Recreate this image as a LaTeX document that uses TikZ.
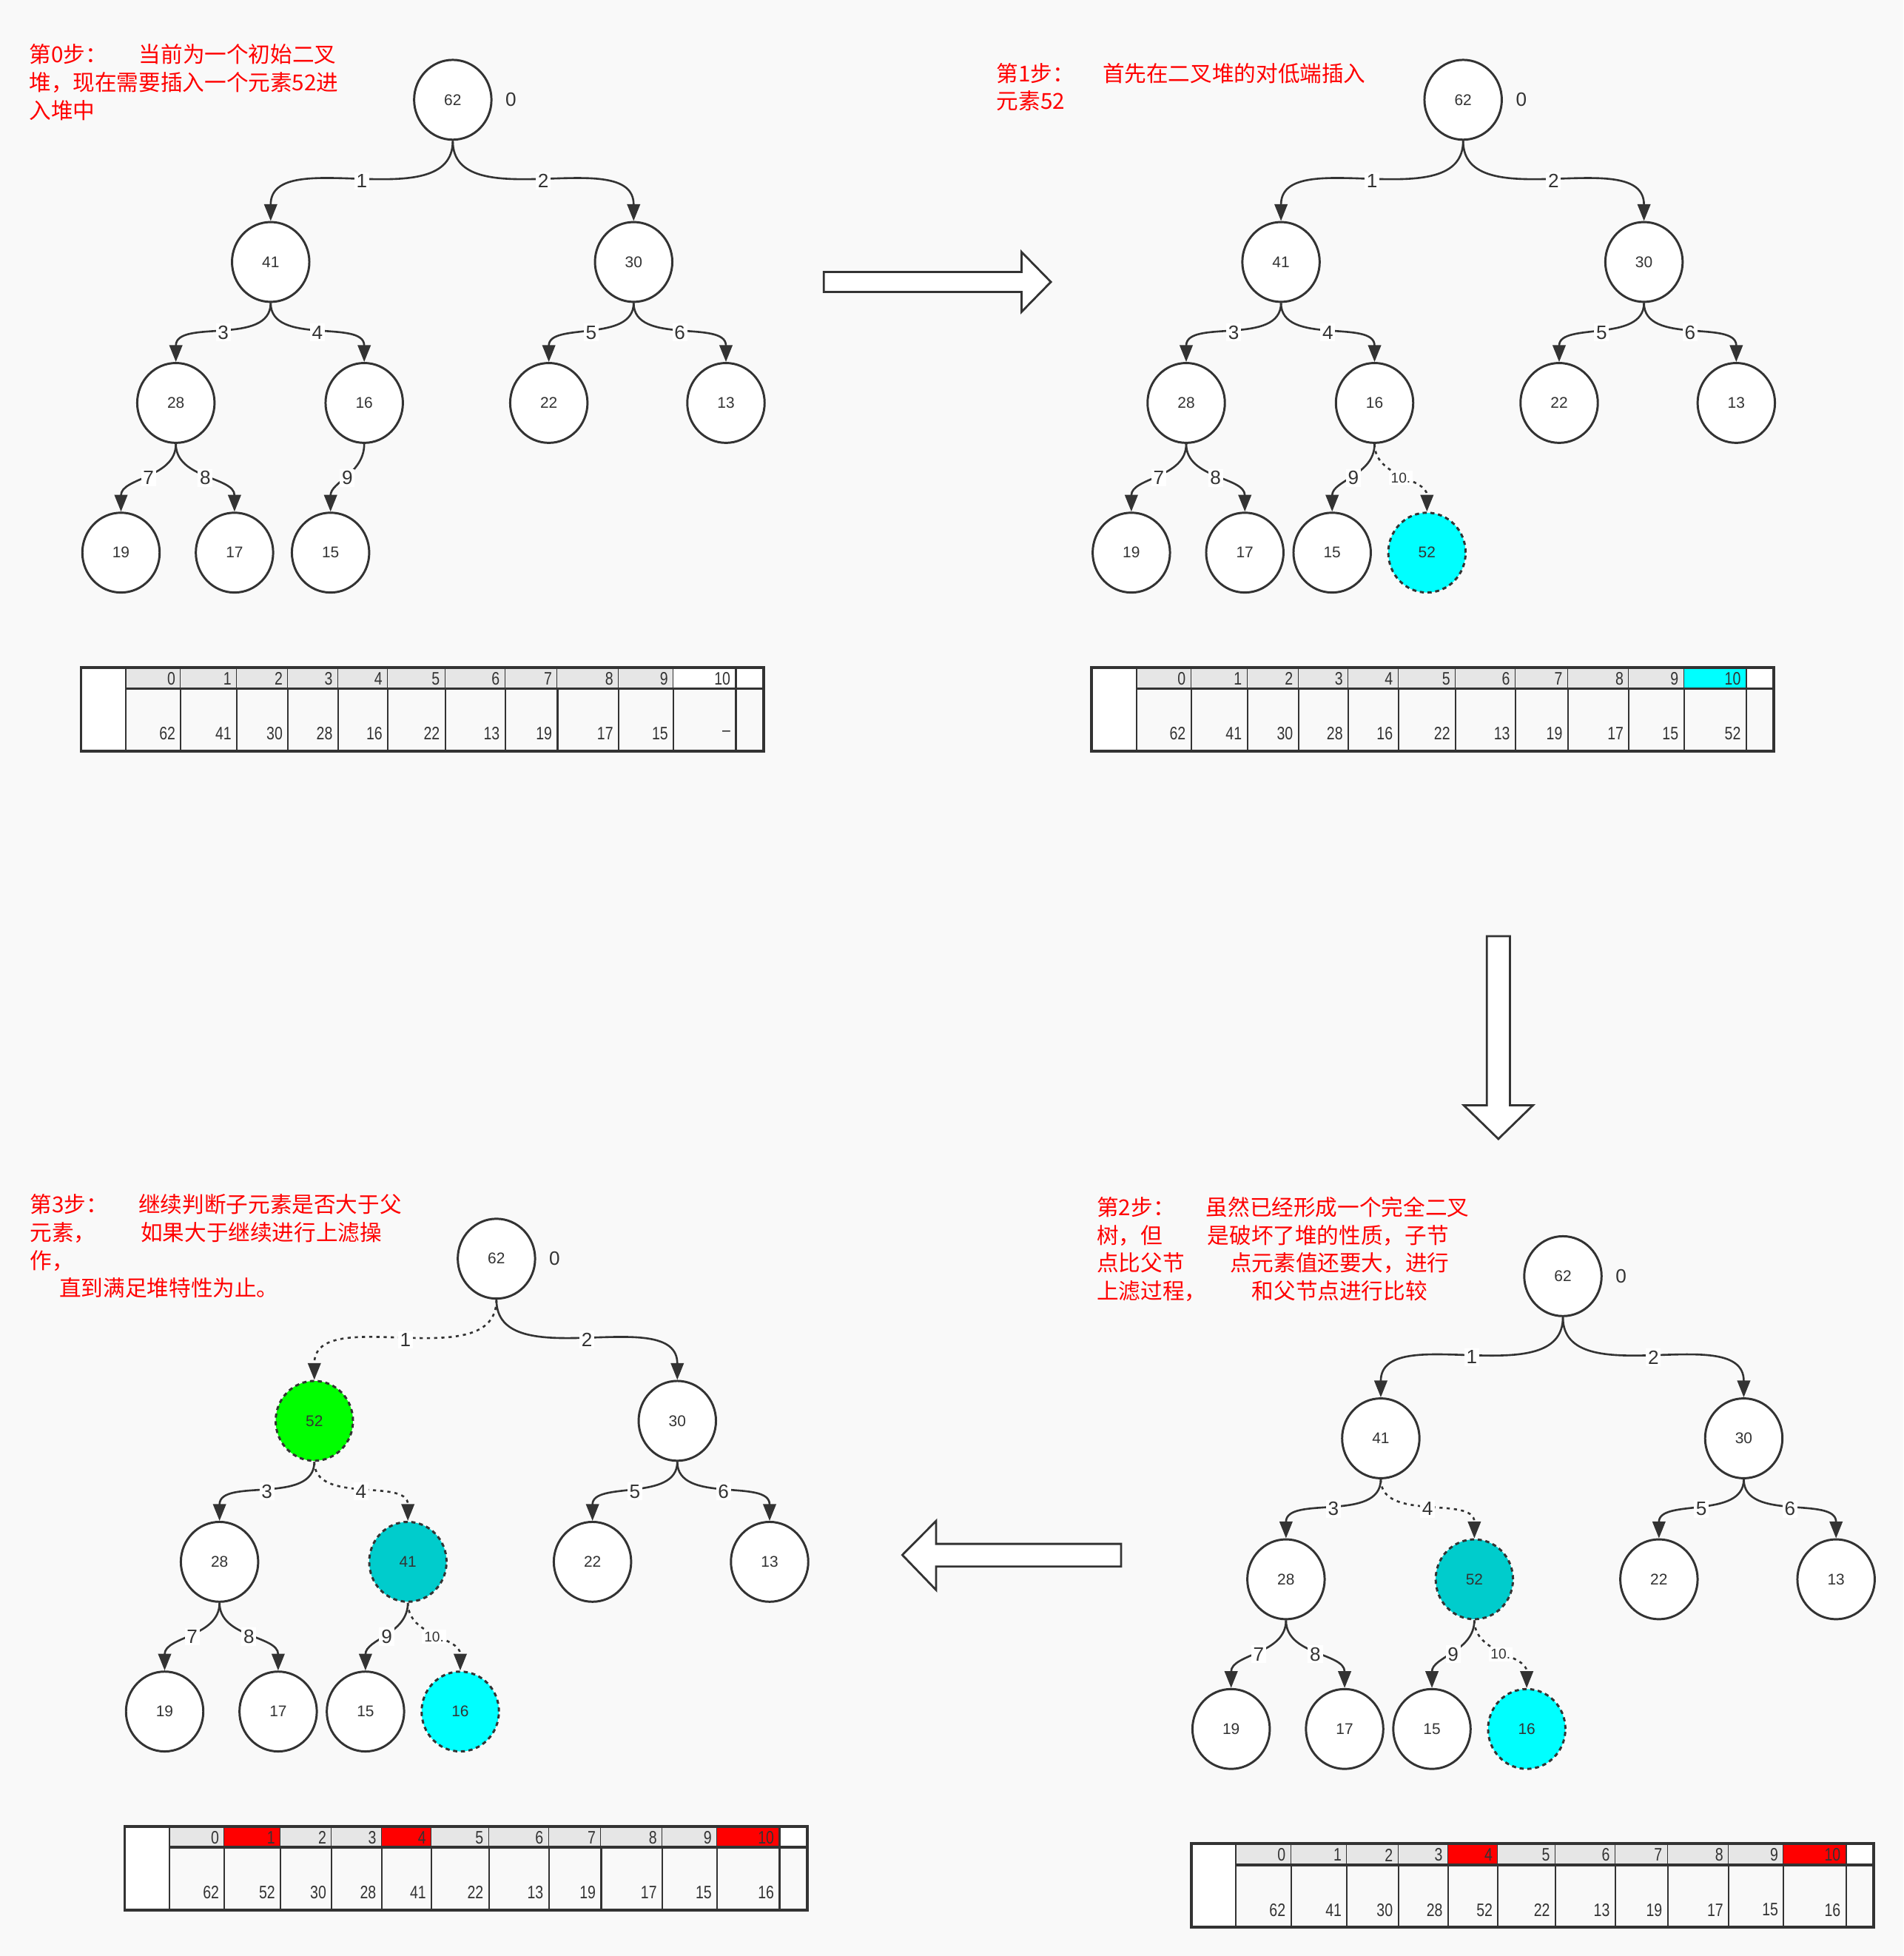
\documentclass[tikz,border=0pt]{standalone}
\usepackage{fontspec}
\setmainfont{Liberation Sans}
\newfontfamily\cjk{Noto Sans CJK SC}
\newfontfamily\narrowsans[FakeStretch=0.8]{Liberation Sans}
\usetikzlibrary{positioning,arrows.meta,shapes.geometric}

\newlength{\pxu}
\setlength{\pxu}{0.017cm}

\definecolor{paper}{RGB}{249,249,249}
\definecolor{ink}{RGB}{51,51,51}
\definecolor{hdgray}{RGB}{230,230,230}
\definecolor{newcyan}{RGB}{0,255,255}
\definecolor{midcyan}{RGB}{0,204,204}
\definecolor{newgreen}{RGB}{0,255,0}
\definecolor{hotred}{RGB}{255,0,0}

% the array under each tree, in the coordinates of the first step
\newcommand{\heaparray}[1]{%
  \fill[white] (65,535) rectangle (101,602);
  \fill[white] (590,535) rectangle (612,552);
  \foreach \lx/\rx/\ix/\vx/\cx in {#1} {
    \fill[\cx] (\lx,535) rectangle (\rx,552);
    \node[cellnum] at (\rx-4,544) {\ix};
    \node[cellnum] at (\rx-4,588) {\vx};
    \draw[ink,line width=0.6pt] (\rx,535) -- (\rx,602);
  }
  \draw[ink,line width=0.6pt] (101,535) -- (101,602);
  \draw[ink,line width=1.1pt] (101,552) -- (612,552);
  \draw[ink,line width=1.1pt] (65,535) rectangle (612,602);
}

\begin{document}
\begin{tikzpicture}
  [x=0.017cm,y=-0.017cm,
   hnode/.style={ellipse,draw=ink,line width=0.85pt,fill=white,minimum width=62\pxu,minimum height=64\pxu,inner sep=0pt,text=ink,font=\fontsize{6}{7}\selectfont},
   newnode/.style={hnode,dash pattern=on 1.6pt off 1.4pt},
   link/.style={draw=ink,line width=0.75pt,out=-90,in=90,-{Triangle[length=6.5pt,width=5pt]}},
   newlink/.style={link,dash pattern=on 1.2pt off 1.6pt},
   elbl/.style={fill=white,inner sep=0.8pt,text=ink,font=\fontsize{7.5}{8}\selectfont},
   smalllbl/.style={elbl,font=\fontsize{5.5}{6}\selectfont},
   rootidx/.style={inner sep=0pt,text=ink,font=\fontsize{7.5}{8}\selectfont},
   cellnum/.style={anchor=east,inner sep=0pt,text=ink,font=\narrowsans\fontsize{7}{7.5}\selectfont},
   note/.style={anchor=north west,align=left,inner sep=0pt,text=hotred,font=\cjk\fontsize{8.5}{10.8}\selectfont},
   hollow/.style={draw=ink,line width=0.8pt,fill=white}]

  \useasboundingbox (0,0) rectangle (1526,1568);
  \fill[paper] (0,0) rectangle (1526,1568);

  % step 0
  \node[note] (s0) at (23,35) {\makebox[88\pxu][l]{第0步：}当前为一个初始二叉\\堆，现在需要插入一个元素52进\\入堆中};
  \foreach \k/\px/\py/\val in {0/363/80/62,1/217/210/41,2/508/210/30,3/141/323/28,4/292/323/16,
      5/440/323/22,6/582/323/13,7/97/443/19,8/188/443/17,9/265/443/15}
    \node[hnode] (a\k) at (\px,\py) {\val};
  \node[rootidx,right=10\pxu of a0] (a0i) {0};
  \foreach \pa/\k in {0/1,0/2,1/3,1/4,2/5,2/6,3/7,3/8,4/9}
    \draw[link] (a\pa) to node[elbl] {\k} (a\k);
  \heaparray{101/145/0/62/hdgray,145/190/1/41/hdgray,190/231/2/30/hdgray,231/271/3/28/hdgray,
    271/311/4/16/hdgray,311/357/5/22/hdgray,357/405/6/13/hdgray,405/447/7/19/hdgray,
    447/496/8/17/hdgray,496/540/9/15/hdgray,540/590/10/–/white}

  % step 1
  \node[note] (s1) at (798.6,50) {\makebox[85\pxu][l]{第1步：}首先在二叉堆的对低端插入\\元素52};
  \begin{scope}[shift={(810,0)}]
    \foreach \k/\px/\py/\val in {0/363/80/62,1/217/210/41,2/508/210/30,3/141/323/28,4/292/323/16,
        5/440/323/22,6/582/323/13,7/97/443/19,8/188/443/17,9/258/443/15}
      \node[hnode] (b\k) at (\px,\py) {\val};
    \node[newnode,fill=newcyan] (b10) at (334,443) {52};
    \node[rootidx,right=10\pxu of b0] (b0i) {0};
    \foreach \pa/\k in {0/1,0/2,1/3,1/4,2/5,2/6,3/7,3/8,4/9}
      \draw[link] (b\pa) to node[elbl] {\k} (b\k);
    \draw[newlink] (b4) to node[smalllbl] {10.} (b10);
    \heaparray{101/145/0/62/hdgray,145/190/1/41/hdgray,190/231/2/30/hdgray,231/271/3/28/hdgray,
      271/311/4/16/hdgray,311/357/5/22/hdgray,357/405/6/13/hdgray,405/447/7/19/hdgray,
      447/496/8/17/hdgray,496/540/9/15/hdgray,540/590/10/52/newcyan}
  \end{scope}

  % step 2
  \node[note] (s2) at (879,959) {\makebox[87.5\pxu][l]{第2步：}虽然已经形成一个完全二叉\\\makebox[88.7\pxu][l]{树，但}是破坏了堆的性质，子节\\\makebox[106.7\pxu][l]{点比父节}点元素值还要大，进行\\\makebox[124.3\pxu][l]{上滤过程，}和父节点进行比较};
  \begin{scope}[shift={(890,943)}]
    \foreach \k/\px/\py/\val in {0/363/80/62,1/217/210/41,2/508/210/30,3/141/323/28,
        5/440/323/22,6/582/323/13,7/97/443/19,8/188/443/17,9/258/443/15}
      \node[hnode] (c\k) at (\px,\py) {\val};
    \node[newnode,fill=midcyan] (c4) at (292,323) {52};
    \node[newnode,fill=newcyan] (c10) at (334,443) {16};
    \node[rootidx,right=10\pxu of c0] (c0i) {0};
    \foreach \pa/\k in {0/1,0/2,1/3,2/5,2/6,3/7,3/8,4/9}
      \draw[link] (c\pa) to node[elbl] {\k} (c\k);
    \draw[newlink] (c1) to node[elbl] {4} (c4);
    \draw[newlink] (c4) to node[smalllbl] {10.} (c10);
    \heaparray{101/145/0/62/hdgray,145/190/1/41/hdgray,190/231/2/30/hdgray,231/271/3/28/hdgray,
      271/311/4/52/hotred,311/357/5/22/hdgray,357/405/6/13/hdgray,405/447/7/19/hdgray,
      447/496/8/17/hdgray,496/540/9/15/hdgray,540/590/10/16/hotred}
  \end{scope}

  % step 3
  \node[note] (s3) at (23.7,957) {\makebox[87\pxu][l]{第3步：}继续判断子元素是否大于父\\\makebox[88.7\pxu][l]{元素，}如果大于继续进行上滤操\\作，\\\hspace*{23.5\pxu}直到满足堆特性为止。};
  \begin{scope}[shift={(35,929)}]
    \foreach \k/\px/\py/\val in {0/363/80/62,2/508/210/30,3/141/323/28,
        5/440/323/22,6/582/323/13,7/97/443/19,8/188/443/17,9/258/443/15}
      \node[hnode] (d\k) at (\px,\py) {\val};
    \node[newnode,fill=newgreen] (d1) at (217,210) {52};
    \node[newnode,fill=midcyan] (d4) at (292,323) {41};
    \node[newnode,fill=newcyan] (d10) at (334,443) {16};
    \node[rootidx,right=10\pxu of d0] (d0i) {0};
    \foreach \pa/\k in {0/2,1/3,2/5,2/6,3/7,3/8,4/9}
      \draw[link] (d\pa) to node[elbl] {\k} (d\k);
    \draw[newlink] (d0) to node[elbl] {1} (d1);
    \draw[newlink] (d1) to node[elbl] {4} (d4);
    \draw[newlink] (d4) to node[smalllbl] {10.} (d10);
    \heaparray{101/145/0/62/hdgray,145/190/1/52/hotred,190/231/2/30/hdgray,231/271/3/28/hdgray,
      271/311/4/41/hotred,311/357/5/22/hdgray,357/405/6/13/hdgray,405/447/7/19/hdgray,
      447/496/8/17/hdgray,496/540/9/15/hdgray,540/590/10/16/hotred}
  \end{scope}

  % hollow arrows from one step to the next
  \draw[hollow] (660.5,218) -- (819,218) -- (819,202) -- (842.5,226) -- (819,250) -- (819,234) -- (660.5,234) -- cycle;
  \draw[hollow] (1192,750.5) -- (1210.5,750.5) -- (1210.5,886) -- (1229,886) -- (1201.25,913) -- (1173.5,886) -- (1192,886) -- cycle;
  \draw[hollow] (898.8,1237.6) -- (750.5,1237.6) -- (750.5,1219.2) -- (723.4,1246.5) -- (750.5,1274.6) -- (750.5,1255.8) -- (898.8,1255.8) -- cycle;
\end{tikzpicture}
\end{document}
